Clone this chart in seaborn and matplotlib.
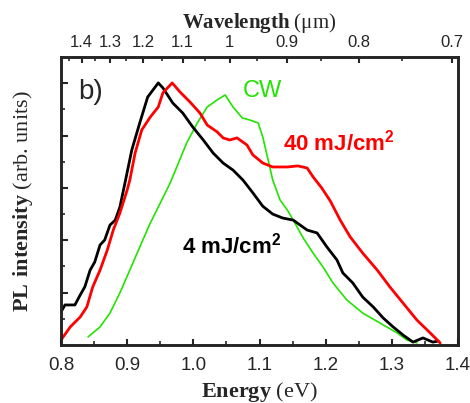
import numpy as np
import pandas as pd
import matplotlib
matplotlib.use("Agg")
import matplotlib.pyplot as plt
from matplotlib.ticker import MultipleLocator, FixedLocator, NullFormatter
import seaborn as sns

# ---- data ----
energy_4mJ = [0.800, 0.806, 0.821, 0.829, 0.836, 0.844, 0.851, 0.859, 0.866, 0.874, 0.882, 0.889,
              0.897, 0.907, 0.919, 0.931, 0.947, 0.954, 0.969, 0.984, 0.999, 1.015, 1.030, 1.045,
              1.060, 1.075, 1.090, 1.105, 1.120, 1.135, 1.151, 1.172, 1.187, 1.202, 1.217, 1.226,
              1.241, 1.256, 1.272, 1.287, 1.302, 1.317, 1.332, 1.347, 1.362, 1.370]
pl_4mJ = [0.126, 0.153, 0.153, 0.191, 0.222, 0.286, 0.317, 0.382, 0.401, 0.458, 0.477, 0.527,
          0.623, 0.745, 0.848, 0.947, 1.001, 0.982, 0.924, 0.886, 0.833, 0.783, 0.733, 0.695,
          0.668, 0.630, 0.581, 0.530, 0.500, 0.485, 0.477, 0.439, 0.428, 0.374, 0.325, 0.275,
          0.237, 0.183, 0.145, 0.103, 0.069, 0.038, 0.011, 0.027, 0.011, 0.015]

energy_40mJ = [0.800, 0.814, 0.829, 0.839, 0.848, 0.859, 0.870, 0.879, 0.889, 0.900, 0.904, 0.912,
               0.922, 0.935, 0.947, 0.954, 0.968, 0.980, 0.995, 1.010, 1.021, 1.036, 1.045, 1.055,
               1.066, 1.081, 1.090, 1.105, 1.120, 1.142, 1.158, 1.172, 1.181, 1.194, 1.207, 1.222,
               1.237, 1.256, 1.278, 1.297, 1.317, 1.338, 1.358, 1.373]
pl_40mJ = [0.019, 0.069, 0.107, 0.145, 0.222, 0.286, 0.363, 0.439, 0.504, 0.592, 0.630, 0.733,
           0.821, 0.871, 0.909, 0.963, 1.001, 0.966, 0.928, 0.886, 0.840, 0.814, 0.791, 0.783,
           0.791, 0.764, 0.726, 0.695, 0.680, 0.680, 0.684, 0.676, 0.642, 0.600, 0.550, 0.477,
           0.413, 0.351, 0.286, 0.222, 0.160, 0.095, 0.046, 0.008]

energy_cw = [0.841, 0.859, 0.874, 0.889, 0.904, 0.919, 0.935, 0.950, 0.965, 0.975, 0.990, 1.006,
             1.021, 1.036, 1.048, 1.060, 1.074, 1.086, 1.098, 1.105, 1.113, 1.120, 1.131, 1.142,
             1.151, 1.166, 1.181, 1.196, 1.211, 1.232, 1.256, 1.282, 1.308, 1.323, 1.338]
pl_cw = [0.031, 0.069, 0.122, 0.199, 0.286, 0.374, 0.466, 0.542, 0.619, 0.680, 0.772, 0.848,
         0.909, 0.936, 0.955, 0.909, 0.867, 0.859, 0.848, 0.794, 0.707, 0.630, 0.554, 0.516,
         0.477, 0.409, 0.351, 0.298, 0.237, 0.172, 0.122, 0.084, 0.046, 0.019, 0.008]

energy_ticks = [0.8, 0.9, 1.0, 1.1, 1.2, 1.3, 1.4]
energy_tick_labels = ["0.8", "0.9", "1.0", "1.1", "1.2", "1.3", "1.4"]
wavelength_ticks = [1.4, 1.3, 1.2, 1.1, 1.0, 0.9, 0.8, 0.7]
wavelength_tick_labels = ["1.4", "1.3", "1.2", "1.1", "1", "0.9", "0.8", "0.7"]
wavelength_minor = [1.45, 1.35, 1.25, 1.15, 1.05, 0.95, 0.85, 0.75]

# mapping of the top axis used by the original figure (E = k/lambda + b)
K_MAP, B_MAP = 0.783, 0.272


def wl_to_energy(wl):
    return K_MAP / np.asarray(wl) + B_MAP


df = pd.concat([
    pd.DataFrame({"Energy": energy_4mJ, "PL": pl_4mJ, "series": "4 mJ"}),
    pd.DataFrame({"Energy": energy_40mJ, "PL": pl_40mJ, "series": "40 mJ"}),
    pd.DataFrame({"Energy": energy_cw, "PL": pl_cw, "series": "CW"}),
])

sns.set_style("ticks")
plt.rcParams["font.family"] = ["Liberation Sans", "DejaVu Sans"]
plt.rcParams["mathtext.fontset"] = "custom"
plt.rcParams["mathtext.rm"] = "Liberation Serif"
plt.rcParams["mathtext.bf"] = "Liberation Serif:bold"
plt.rcParams["mathtext.sf"] = "Liberation Sans:bold"

fig = plt.figure(figsize=(4.70, 4.03), dpi=100)
ax = fig.add_axes([61 / 470, 58 / 403, 397 / 470, 288 / 403])

GREEN = "#22e400"
palette = {"4 mJ": "black", "40 mJ": "#ff0000", "CW": GREEN}
widths = {"4 mJ": 2.0, "40 mJ": 2.0, "CW": 1.2}
for name in ["CW", "4 mJ", "40 mJ"]:
    sub = df[df["series"] == name]
    sns.lineplot(data=sub, x="Energy", y="PL", ax=ax, color=palette[name],
                 linewidth=widths[name], sort=False, estimator=None, legend=False)

ax.set_xlim(0.8, 1.4)
ax.set_ylim(0.0, 1.1)

for s in ax.spines.values():
    s.set_linewidth(1.8)
    s.set_color("black")

ax.set_xticks(energy_ticks)
ax.set_xticklabels(energy_tick_labels)
ax.xaxis.set_minor_locator(MultipleLocator(0.05))
ax.yaxis.set_major_locator(FixedLocator([0.2, 0.4, 0.6, 0.8, 1.0]))
ax.yaxis.set_minor_locator(FixedLocator([0.1, 0.3, 0.5, 0.7, 0.9]))
ax.yaxis.set_major_formatter(NullFormatter())
ax.tick_params(axis="x", which="major", direction="in", length=4.5, width=1.5,
               labelsize=13.5, pad=9, top=False)
ax.tick_params(axis="x", which="minor", direction="in", length=3, width=1.2, top=False)
ax.tick_params(axis="y", which="major", direction="in", length=5, width=1.5, right=False)
ax.tick_params(axis="y", which="minor", direction="in", length=3, width=1.2, right=False)

ax.set_xlabel(r"$\mathbf{Energy}$ (eV)", fontsize=16, family="Liberation Serif", labelpad=4)
ax.set_ylabel(r"$\mathbf{PL\ intensity}$ (arb. units)", fontsize=16,
              family="Liberation Serif", labelpad=15)

# top wavelength axis
axt = ax.twiny()
axt.set_xlim(ax.get_xlim())
axt.set_xticks(wl_to_energy(wavelength_ticks))
axt.set_xticklabels(wavelength_tick_labels)
axt.xaxis.set_minor_locator(FixedLocator(wl_to_energy(wavelength_minor)))
axt.tick_params(axis="x", which="major", direction="in", length=4.5, width=1.5,
                labelsize=12, pad=5)
axt.tick_params(axis="x", which="minor", direction="in", length=3, width=1.2)
for s in axt.spines.values():
    s.set_linewidth(1.8)
axt.set_xlabel(r"$\mathbf{Wavelength}$ (μm)", fontsize=15,
               family="Liberation Serif", labelpad=5)
axt.grid(False)

# annotations
ax.text(0.845, 0.966, "b)", fontsize=20, ha="center", va="center")
ax.text(1.104, 0.970, "CW", fontsize=17, color=GREEN, ha="center", va="center")
ax.text(1.1355, 0.775, r"40 mJ/cm$^\mathsf{2}$", fontsize=16, fontweight="bold",
        color="#ff0000", ha="left", va="center")
ax.text(0.983, 0.380, r"4 mJ/cm$^\mathsf{2}$", fontsize=16, fontweight="bold",
        color="black", ha="left", va="center")

fig.savefig("out.png", dpi=100)
